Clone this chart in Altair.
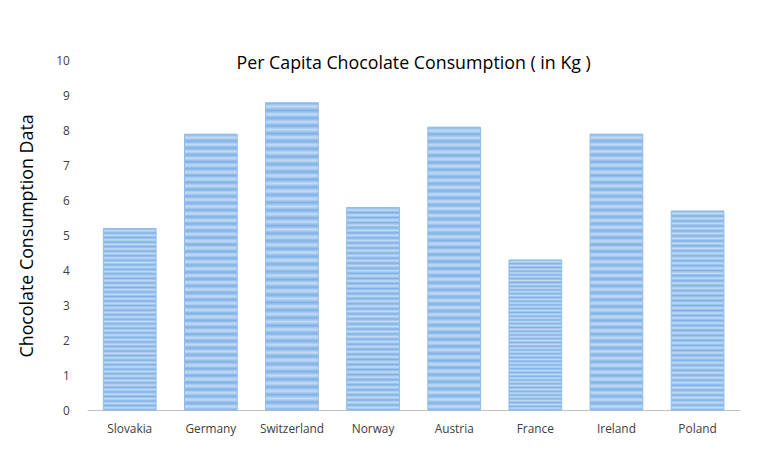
import altair as alt
import pandas as pd

countries = ["Slovakia", "Germany", "Switzerland", "Norway", "Austria", "France", "Ireland", "Poland"]
consumption = [5.2, 7.9, 8.8, 5.8, 8.1, 4.3, 7.9, 5.7]

df = pd.DataFrame({"country": countries, "value": consumption})

# striped fill via a repeating vertical gradient
stops = []
n = 40
for i in range(n):
    a = i / n
    b = (i + 0.5) / n
    stops.append(alt.GradientStop(offset=a, color="#7fb0e6"))
    stops.append(alt.GradientStop(offset=b, color="#c3dcf5"))
stops.append(alt.GradientStop(offset=1, color="#7fb0e6"))

chart = (
    alt.Chart(df)
    .mark_bar(
        color=alt.LinearGradient(gradient="linear", stops=stops, x1=0, x2=0, y1=0, y2=1),
        stroke="#8fbbe9",
        strokeWidth=1,
    )
    .encode(
        x=alt.X(
            "country:N",
            sort=countries,
            title=None,
            scale=alt.Scale(paddingInner=0.35, paddingOuter=0.2),
            axis=alt.Axis(labelAngle=0, ticks=False, domainColor="#bfbfbf", labelPadding=14,
                          labelFont="Open Sans", labelFontSize=12, labelColor="#404040"),
        ),
        y=alt.Y(
            "value:Q",
            title="Chocolate Consumption Data",
            scale=alt.Scale(domain=[0, 10]),
            axis=alt.Axis(tickCount=10, grid=False, domain=False, ticks=False, labelPadding=18,
                          labelFont="Open Sans", labelFontSize=12, labelColor="#404040",
                          titleFont="Open Sans", titleFontSize=18, titleFontWeight="normal",
                          titleColor="#000000", titlePadding=20),
        ),
    )
    .properties(
        title=alt.TitleParams("Per Capita Chocolate Consumption ( in Kg )", font="Open Sans",
                              fontSize=18, fontWeight="normal", anchor="middle", dy=22),
        width=660,
        height=353,
        autosize=alt.AutoSizeParams(type="none"),
        padding={"left": 80, "top": 51, "right": 13, "bottom": 40},
    )
    .configure_view(stroke=None)
)

chart.save("out.html", embed_options={"renderer": "svg", "actions": False})
